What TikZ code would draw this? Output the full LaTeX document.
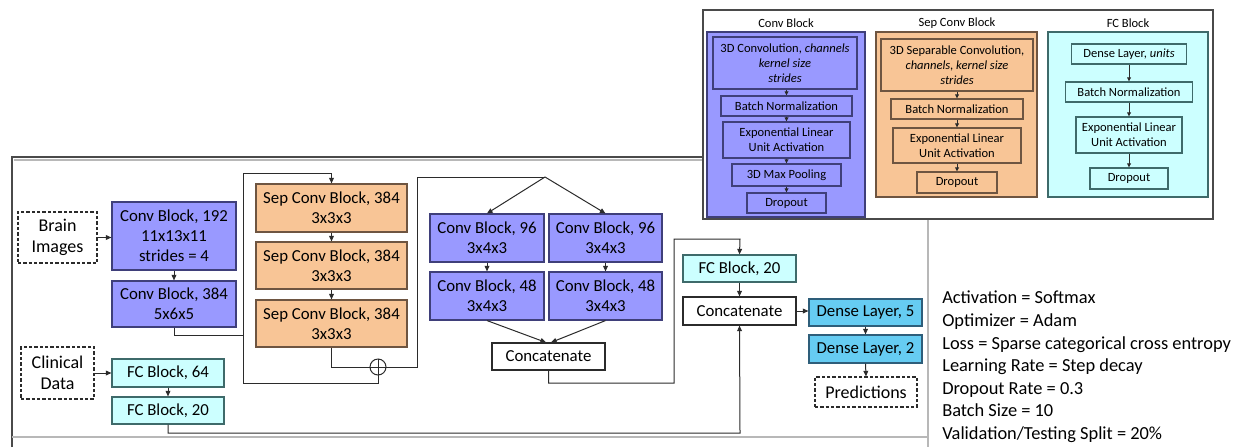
\documentclass[tikz,border=0pt]{standalone}
\usepackage{fontspec}
\setmainfont{Carlito}
\usetikzlibrary{arrows.meta,fit}

\definecolor{convfill}{HTML}{9999FF}
\definecolor{convline}{HTML}{3F3F7A}
\definecolor{sepfill}{HTML}{F8C596}
\definecolor{sepline}{HTML}{6E5541}
\definecolor{fcfill}{HTML}{CCFFFF}
\definecolor{fcline}{HTML}{3E6A6A}
\definecolor{densefill}{HTML}{66CCF2}
\definecolor{denseline}{HTML}{2E5E7A}
\definecolor{wirecol}{HTML}{2B2B2B}
\definecolor{framedark}{HTML}{4A4A4A}
\definecolor{framelight}{HTML}{B8B8B8}

\newcommand\mainfs{\fontsize{12.6}{15}\selectfont}
\newcommand\iofs{\fontsize{13.5}{16}\selectfont}
\newcommand\insetfs{\fontsize{9.4}{11.25}\selectfont}
\newcommand\legendfs{\fontsize{13.8}{16.95}\selectfont}

\tikzset{
  sz/.style 2 args={minimum width=#1*0.75pt, minimum height=#2*0.75pt},
  blk/.style={draw, line width=0.85pt, inner sep=0pt, align=center, font=\mainfs},
  convbox/.style={blk, draw=convline, fill=convfill},
  sepbox/.style={blk, draw=sepline, fill=sepfill},
  fcbox/.style={blk, draw=fcline, fill=fcfill},
  densebox/.style={blk, draw=denseline, fill=densefill},
  catbox/.style={blk, draw=wirecol, fill=white},
  iobox/.style={blk, draw=wirecol, dash pattern=on 2.4pt off 1.6pt, font=\iofs},
  ibox/.style={draw, line width=0.8pt, inner sep=0pt, align=center, font=\insetfs},
  group/.style={draw, line width=0.85pt, inner sep=0pt},
  link/.style={draw=wirecol, line width=0.75pt},
  arrowlink/.style={link, -{Triangle[length=4.2pt,width=3.6pt]}},
  smallarrow/.style={link, line width=0.7pt, -{Triangle[length=3pt,width=2.8pt]}},
}

\begin{document}
\begin{tikzpicture}[x=0.75pt,y=-0.75pt]
\useasboundingbox (0,0) rectangle (1244,447);

% outer frame of the network panel
\draw[framedark, line width=0.9pt] (12,447) -- (12,157) -- (703,157);
\draw[framelight, line width=0.9pt] (14,160) -- (703,160);
\draw[framelight, line width=0.9pt] (12,437) -- (928,437);
\draw[framelight, line width=0.9pt] (928,219) -- (928,447);

% inputs and first convolutions
\node[iobox, sz={79}{51}] (brain) at (57.5,237.5) {Brain\\Images};
\node[convbox, sz={124}{68}] (c192) at (174,236) {Conv Block, 192\\11x13x11\\strides = 4};
\node[convbox, sz={124}{46}] (c384) at (174,304) {Conv Block, 384\\5x6x5};
\node[iobox, sz={73}{52}] (clin) at (57.5,373) {Clinical\\Data};
\node[fcbox, sz={112}{28}] (fc64) at (168,373) {FC Block, 64};
\node[fcbox, sz={112}{27}] (fc20a) at (168,410.5) {FC Block, 20};

% separable residual stack
\node[sepbox, sz={151}{48}] (sep1) at (331.5,208) {Sep Conv Block, 384\\3x3x3};
\node[sepbox, sz={151}{47}] (sep2) at (331.5,265.5) {Sep Conv Block, 384\\3x3x3};
\node[sepbox, sz={151}{47}] (sep3) at (331.5,323.5) {Sep Conv Block, 384\\3x3x3};
\node[circle, draw=wirecol, fill=white, line width=0.75pt, minimum size=16*0.75pt, inner sep=0pt] (plus) at (378,367) {};
\draw[link] (plus.north) -- (plus.south) (plus.west) -- (plus.east);

% parallel branches
\node[convbox, sz={114}{48}] (c96a) at (487,238) {Conv Block, 96\\3x4x3};
\node[convbox, sz={113}{48}] (c96b) at (605.5,238) {Conv Block, 96\\3x4x3};
\node[convbox, sz={114}{48}] (c48a) at (487,296) {Conv Block, 48\\3x4x3};
\node[convbox, sz={113}{48}] (c48b) at (605.5,296) {Conv Block, 48\\3x4x3};
\node[catbox, sz={113}{27}] (cat1) at (548.5,356.5) {Concatenate};

% fusion and head
\node[fcbox, sz={113}{27}] (fc20b) at (739.5,268.5) {FC Block, 20};
\node[catbox, sz={113}{28}] (cat2) at (739.5,311) {Concatenate};
\node[densebox, sz={113}{27}] (d5) at (865.5,312.5) {Dense Layer, 5};
\node[densebox, sz={113}{28}] (d2) at (865.5,349) {Dense Layer, 2};
\node[iobox, sz={102}{30}] (pred) at (866,392) {Predictions};

% junction points
\coordinate (loopTL) at (243,173);
\coordinate (loopBL) at (243,383);
\coordinate (split) at (545,177);

% connectors
\draw[arrowlink] (brain.east) -- (brain.east -| c192.west);
\draw[arrowlink] (c192.south) -- (c384.north);
\draw[arrowlink] (clin.east) -- (fc64.west);
\draw[arrowlink] (fc64.south) -- (fc20a.north);
\draw[link] (c384.south) |- (243,335);
\draw[link] (loopBL) -- (loopTL);
\draw[arrowlink] (loopTL) -| (sep1.north);
\draw[arrowlink] (sep1.south) -- (sep2.north);
\draw[arrowlink] (sep2.south) -- (sep3.north);
\draw[link] (sep3.south) |- (plus.west);
\draw[link] (loopBL) -| (plus.south);
\draw[link] (plus.east) -| (417,177) -- (split);
\draw[arrowlink] (split) -- (c96a.north);
\draw[arrowlink] (split) -- (c96b.north);
\draw[arrowlink] (c96a.south) -- (c48a.north);
\draw[arrowlink] (c96b.south) -- (c48b.north);
\draw[arrowlink] (c48a.south) -- ([xshift=-2.5*0.75pt]cat1.north);
\draw[arrowlink] (c48b.south) -- ([xshift=2.5*0.75pt]cat1.north);
\draw[arrowlink] (cat1.south) |- (674,383) |- (740,239) -- (fc20b.north);
\draw[arrowlink] (fc20b.south) -- (cat2.north);
\draw[arrowlink] (fc20a.south) |- (740,433) -- (cat2.south);
\draw[arrowlink] (cat2.east) -- (d5.west |- cat2.east);
\draw[arrowlink] (d5.south) -- (d2.north);
\draw[arrowlink] (d2.south) -- (pred.north);

% training settings
\node[anchor=north west, inner sep=0pt, align=left, font=\legendfs] (legend) at (942,291)
  {Activation = Softmax\\Optimizer = Adam\\Loss = Sparse categorical cross entropy\\Learning Rate = Step decay\\Dropout Rate = 0.3\\Batch Size = 10\\Validation/Testing Split = 20\%};

% block definitions panel
\node[group, draw=framedark, fill=white, line width=0.9pt, fit={(703,10) (1213,219)}] (inset) {};
\node[font=\insetfs] (tconv) at (786,23) {Conv Block};
\node[font=\insetfs] (tsep) at (957,23) {Sep Conv Block};
\node[font=\insetfs] (tfc) at (1128,23) {FC Block};

\node[group, draw=convline, fill=convfill, fit={(707,32) (865,217)}] (gconv) {};
\node[group, draw=sepline, fill=sepfill, fit={(876,32) (1037,197)}] (gsep) {};
\node[group, draw=fcline, fill=fcfill, fit={(1048,32) (1208,197)}] (gfc) {};

\node[ibox, draw=convline, sz={144}{52}] (ic1) at (785,63) {3D Convolution, \textit{channels}\\\textit{kernel size}\\\textit{strides}};
\node[ibox, draw=convline, sz={131}{20}] (ic2) at (786.5,106) {Batch Normalization};
\node[ibox, draw=convline, sz={127}{36}] (ic3) at (786.5,140) {Exponential Linear\\Unit Activation};
\node[ibox, draw=convline, sz={109}{22}] (ic4) at (786.5,175) {3D Max Pooling};
\node[ibox, draw=convline, sz={79}{20}] (ic5) at (786.5,203) {Dropout};
\draw[smallarrow] (ic2.north |- ic1.south) -- (ic2.north);
\draw[smallarrow] (ic2.south) -- (ic3.north);
\draw[smallarrow] (ic3.south) -- (ic4.north);
\draw[smallarrow] (ic4.south) -- (ic5.north);

\node[ibox, draw=sepline, sz={152}{52}] (is1) at (957,65) {3D Separable Convolution,\\\textit{channels, kernel size}\\\textit{strides}};
\node[ibox, draw=sepline, sz={132}{20}] (is2) at (957,109) {Batch Normalization};
\node[ibox, draw=sepline, sz={128}{35}] (is3) at (957,145.5) {Exponential Linear\\Unit Activation};
\node[ibox, draw=sepline, sz={80}{21}] (is4) at (957,182.5) {Dropout};
\draw[smallarrow] (is1.south) -- (is2.north);
\draw[smallarrow] (is2.south) -- (is3.north);
\draw[smallarrow] (is3.south) -- (is4.north);

\node[ibox, draw=fcline, sz={115}{20}] (if1) at (1129,54) {Dense Layer, \textit{units}};
\node[ibox, draw=fcline, sz={127}{20}] (if2) at (1129,92) {Batch Normalization};
\node[ibox, draw=fcline, sz={106}{36}] (if3) at (1129,135) {Exponential Linear\\Unit Activation};
\node[ibox, draw=fcline, sz={78}{21}] (if4) at (1129,178.5) {Dropout};
\draw[smallarrow] (if1.south) -- (if2.north);
\draw[smallarrow] (if2.south) -- (if3.north);
\draw[smallarrow] (if3.south) -- (if4.north);
\end{tikzpicture}
\end{document}
